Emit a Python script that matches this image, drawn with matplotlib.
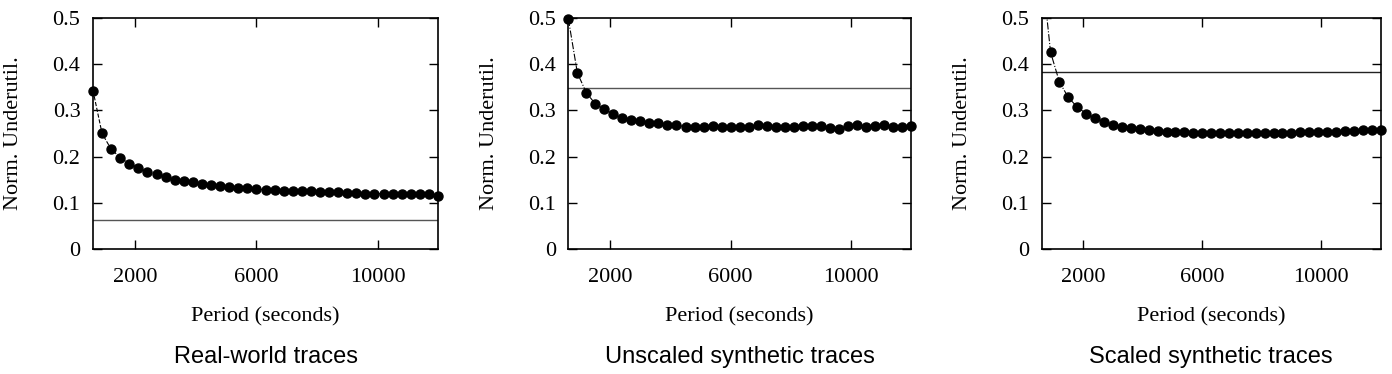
import numpy as np
import matplotlib
matplotlib.use('Agg')
import matplotlib.pyplot as plt

# period values (seconds), same for all three panels
periods = list(range(600, 12001, 300))

# normalized underutilization
real_world = [0.343, 0.250, 0.216, 0.198, 0.185, 0.176, 0.167, 0.162, 0.156, 0.150,
              0.147, 0.144, 0.141, 0.139, 0.137, 0.135, 0.133, 0.131, 0.130, 0.128,
              0.127, 0.126, 0.1255, 0.125, 0.125, 0.124, 0.123, 0.123, 0.122, 0.121,
              0.120, 0.120, 0.120, 0.120, 0.120, 0.120, 0.118, 0.118, 0.115]
unscaled = [0.498, 0.381, 0.338, 0.314, 0.302, 0.292, 0.284, 0.279, 0.276, 0.273,
            0.273, 0.268, 0.269, 0.264, 0.264, 0.263, 0.266, 0.265, 0.264, 0.264,
            0.264, 0.268, 0.266, 0.264, 0.263, 0.263, 0.266, 0.266, 0.266, 0.261,
            0.260, 0.266, 0.268, 0.265, 0.267, 0.268, 0.264, 0.265, 0.266]
scaled = [0.61, 0.426, 0.361, 0.328, 0.307, 0.293, 0.283, 0.275, 0.268, 0.264,
          0.261, 0.259, 0.257, 0.255, 0.254, 0.253, 0.253, 0.252, 0.252, 0.251,
          0.251, 0.251, 0.251, 0.251, 0.252, 0.252, 0.252, 0.252, 0.252, 0.253,
          0.253, 0.253, 0.253, 0.254, 0.255, 0.255, 0.257, 0.257, 0.257]

# horizontal reference levels
baselines = [0.062, 0.348, 0.384]
titles = ['Real-world traces', 'Unscaled synthetic traces', 'Scaled synthetic traces']
series = [real_world, unscaled, scaled]
linestyles = ['--', '-.', '-.']
hcolors = ['#555555', '#555555', '#222222']

xticks = [2000, 6000, 10000]
yticks = [0, 0.1, 0.2, 0.3, 0.4, 0.5]
yticklabels = ['0', '0.1', '0.2', '0.3', '0.4', '0.5']

serif = ['Liberation Serif', 'DejaVu Serif']

fig = plt.figure(figsize=(13.92, 3.74), dpi=100)
lefts = [0.0668, 0.4083, 0.7483]
widths = [0.2479, 0.2460, 0.2435]

for i in range(3):
    ax = fig.add_axes([lefts[i], 0.3342, widths[i], 0.6177])
    y = np.array(series[i])
    ax.axhline(baselines[i], color=hcolors[i], lw=1.0, zorder=1)
    ax.plot(periods, y, color='black', ls=linestyles[i], lw=0.8, zorder=2)
    # markers drawn unclipped so edge points show whole, points off the top are hidden
    ax.plot(periods, np.ma.masked_greater(y, 0.5), 'o', color='black',
            markersize=6.5, clip_on=False, zorder=3)
    ax.set_xlim(600, 12000)
    ax.set_ylim(0, 0.5)
    ax.set_xticks(xticks)
    ax.set_xticklabels([str(t) for t in xticks], family=serif, fontsize=16)
    ax.set_yticks(yticks)
    ax.set_yticklabels(yticklabels, family=serif, fontsize=16)
    ax.tick_params(direction='in', length=6.5, width=1.0, top=True, right=True)
    ax.tick_params(axis='y', pad=9)
    ax.tick_params(axis='x', pad=14)
    for s in ax.spines.values():
        s.set_linewidth(1.2)
    ax.set_xlabel('Period (seconds)', family=serif, fontsize=16, labelpad=14)
    ax.set_ylabel('Norm. Underutil.', family=serif, fontsize=16, labelpad=21)
    fig.text(lefts[i] + widths[i] / 2, 1 - 357 / 374, titles[i],
             ha='center', va='center', fontsize=17,
             family=['Liberation Sans', 'DejaVu Sans'])

fig.savefig('out.png', dpi=100)
